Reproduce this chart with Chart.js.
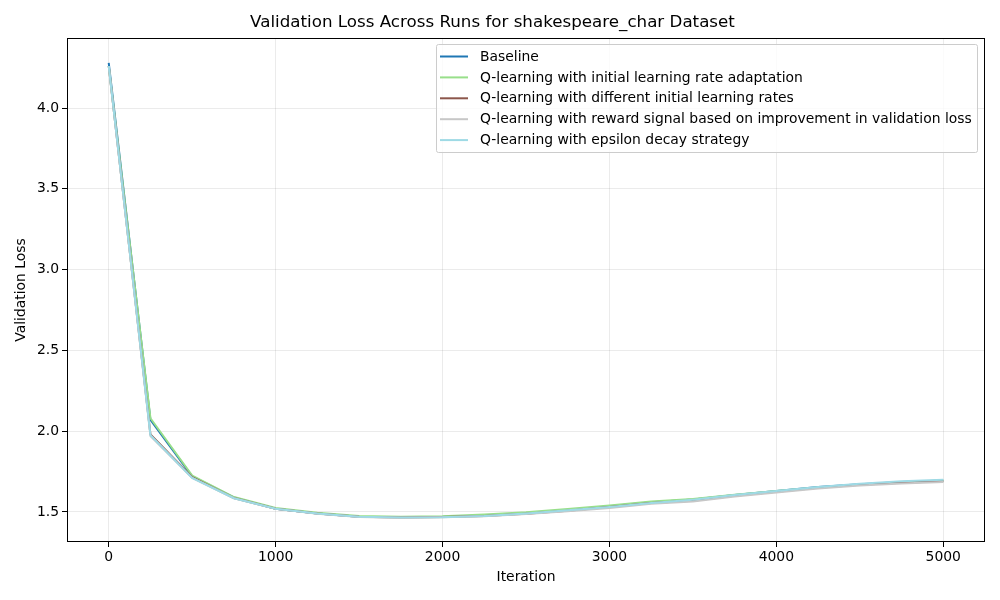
<!DOCTYPE html>
<html>
<head>
<meta charset="utf-8">
<script src="https://cdn.jsdelivr.net/npm/chart.js@4/dist/chart.umd.min.js"></script>
<style>
html,body{margin:0;padding:0;background:#fff;}
#wrap{width:1000px;height:600px;position:relative;}
</style>
</head>
<body>
<div id="wrap"><canvas id="c" width="1000" height="600"></canvas></div>
<script>
const iterations = [0,250,500,750,1000,1250,1500,1750,2000,2250,2500,2750,3000,3250,3500,3750,4000,4250,4500,4750,5000];
const seriesLabels = [
  "Baseline",
  "Q-learning with initial learning rate adaptation",
  "Q-learning with different initial learning rates",
  "Q-learning with reward signal based on improvement in validation loss",
  "Q-learning with epsilon decay strategy"
];
const seriesColors = ["#1f77b4","#98df8a","#8c564b","#c7c7c7","#9edae5"];
const baseline = [4.28,2.07,1.72,1.59,1.52,1.49,1.47,1.468,1.47,1.478,1.49,1.51,1.535,1.56,1.577,1.605,1.63,1.655,1.672,1.685,1.695];
const lrAdaptation = [4.26,2.08,1.725,1.592,1.525,1.495,1.475,1.47,1.474,1.484,1.498,1.518,1.54,1.565,1.58,1.606,1.63,1.652,1.67,1.684,1.694];
const diffInitLr = [4.26,1.98,1.715,1.586,1.52,1.49,1.47,1.465,1.468,1.475,1.489,1.508,1.53,1.555,1.57,1.6,1.625,1.65,1.668,1.68,1.69];
const rewardSignal = [4.26,1.97,1.71,1.585,1.519,1.489,1.469,1.464,1.467,1.474,1.487,1.505,1.525,1.55,1.565,1.595,1.62,1.645,1.664,1.676,1.686];
const epsilonDecay = [4.26,1.975,1.71,1.585,1.52,1.49,1.47,1.465,1.467,1.475,1.49,1.51,1.53,1.555,1.575,1.605,1.63,1.655,1.675,1.69,1.70];
const seriesValues = [baseline, lrAdaptation, diffInitLr, rewardSignal, epsilonDecay];
const xTicks = [0,1000,2000,3000,4000,5000];
const yTicks = [1.5,2.0,2.5,3.0,3.5,4.0];

const FONT = "'DejaVu Sans', sans-serif";

const datasets = seriesLabels.map((lab,i)=>({
  label: lab,
  data: iterations.map((x,j)=>({x:x,y:seriesValues[i][j]})),
  borderColor: seriesColors[i],
  backgroundColor: seriesColors[i],
  borderWidth: 2,
  pointRadius: 0,
  showLine: true,
  tension: 0,
  fill: false,
  order: seriesLabels.length - 1 - i
}));

const framePlugin = {
  id:'frame',
  afterDraw(chart){
    const {ctx, chartArea:a} = chart;
    ctx.save();
    ctx.strokeStyle = '#000';
    ctx.lineWidth = 1;
    ctx.strokeRect(Math.round(a.left)+0.5, Math.round(a.top)+0.5, Math.round(a.right-a.left)-1, Math.round(a.bottom-a.top)-1);
    // legend
    const bx = 436.5, by = 44.5, bw = 541, bh = 108;
    ctx.fillStyle = 'rgba(255,255,255,0.8)';
    ctx.strokeStyle = '#cccccc';
    ctx.lineWidth = 1;
    ctx.beginPath();
    if (ctx.roundRect) ctx.roundRect(bx,by,bw,bh,2); else ctx.rect(bx,by,bw,bh);
    ctx.fill(); ctx.stroke();
    ctx.font = "13.9px " + FONT;
    ctx.textBaseline = 'middle';
    ctx.textAlign = 'left';
    seriesLabels.forEach((lab,i)=>{
      const y = 56.5 + i*20.9;
      ctx.strokeStyle = seriesColors[i];
      ctx.lineWidth = 2;
      ctx.beginPath(); ctx.moveTo(440,y); ctx.lineTo(468,y); ctx.stroke();
      ctx.fillStyle = '#000';
      ctx.fillText(lab, 480, y + 0.5);
    });
    ctx.restore();
  }
};

new Chart(document.getElementById('c'), {
  type: 'scatter',
  data: {datasets},
  options: {
    responsive: false,
    animation: false,
    layout: {padding: {left: 0, right: 15, top: 0, bottom: 0}},
    plugins: {
      legend: {display: false},
      tooltip: {enabled: false},
      title: {
        display: true,
        text: 'Validation Loss Across Runs for shakespeare_char Dataset',
        color: '#000',
        font: {family: FONT, size: 16.7, weight: 'normal'},
        padding: {top: 13, bottom: 5}
      }
    },
    scales: {
      x: {
        type: 'linear',
        min: -250, max: 5250,
        afterBuildTicks: s => { s.ticks = xTicks.map(v=>({value:v})); },
        afterFit: s => { s.height = 58; },
        grid: {color: 'rgba(0,0,0,0.08)', tickColor: '#000', tickLength: 5, drawTicks: true},
        border: {display: false},
        ticks: {color: '#000', font: {family: FONT, size: 13.9}, padding: 2, maxRotation: 0, callback: v => String(v)},
        title: {display: true, text: 'Iteration', color: '#000', font: {family: FONT, size: 13.9}, padding: {top: 0, bottom: 14}}
      },
      y: {
        type: 'linear',
        min: 1.314, max: 4.433,
        afterBuildTicks: s => { s.ticks = yTicks.map(v=>({value:v})); },
        afterFit: s => { s.width = 67; },
        grid: {color: 'rgba(0,0,0,0.08)', tickColor: '#000', tickLength: 5, drawTicks: true},
        border: {display: false},
        ticks: {color: '#000', font: {family: FONT, size: 13.9}, padding: 3, callback: v => v.toFixed(1)},
        title: {display: true, text: 'Validation Loss', color: '#000', font: {family: FONT, size: 13.9}, padding: {top: 13, bottom: 0}}
      }
    }
  },
  plugins: [framePlugin]
});
</script>
</body>
</html>
